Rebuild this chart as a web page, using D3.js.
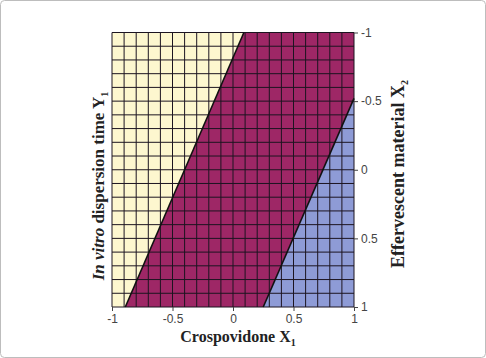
<!DOCTYPE html>
<meta charset="utf-8">
<head>
<style>
body { margin: 0; background: #fff; }
svg { display: block; }
.tick text { font-family: "Liberation Sans", Arial, sans-serif; font-size: 12px; fill: #444; }
.tick line, .domain { stroke: #444; }
.lbl { font-family: "Liberation Serif", "Times New Roman", serif; font-weight: bold; fill: #222; }
</style>
</head>
<body>
<script src="https://cdn.jsdelivr.net/npm/d3@7"></script>
<script>

// axis ticks
var xTicks = [-1, -0.5, 0, 0.5, 1];
var yTicks = [-1, -0.5, 0, 0.5, 1];
var gridLines = [-1, -0.9, -0.8, -0.7, -0.6, -0.5, -0.4, -0.3, -0.2, -0.1, 0,
                 0.1, 0.2, 0.3, 0.4, 0.5, 0.6, 0.7, 0.8, 0.9, 1];

// contour boundaries (X1, X2)
var boundaryLow = [[0.09, -1], [-0.89, 1]];
var boundaryHigh = [[1, -0.52], [0.25, 1]];

// filled regions
var regionNames = ["low", "mid", "high"];
var regionColors = ["#fdf7cf", "#9e2766", "#8e9bd6"];
var regionPolys = [
  [[-1, -1], [0.09, -1], [-0.89, 1], [-1, 1]],
  [[0.09, -1], [1, -1], [1, -0.52], [0.25, 1], [-0.89, 1]],
  [[1, -0.52], [1, 1], [0.25, 1]]
];

var width = 486, height = 358;
var plotL = 112, plotR = 354, plotT = 32.5, plotB = 307;

var svg = d3.select("body").append("svg")
    .attr("width", width)
    .attr("height", height);

svg.append("rect")
    .attr("x", 0.5).attr("y", 0.5)
    .attr("width", width - 1).attr("height", height - 1)
    .attr("rx", 4)
    .attr("fill", "#fff")
    .attr("stroke", "#bdbdbd");

var x = d3.scaleLinear().domain([-1, 1]).range([plotL, plotR]);
var y = d3.scaleLinear().domain([-1, 1]).range([plotT, plotB]);

var line = d3.line().x(function(d) { return x(d[0]); }).y(function(d) { return y(d[1]); });

svg.selectAll("path.region")
    .data(regionPolys)
    .enter().append("path")
    .attr("class", "region")
    .attr("d", function(d) { return line(d) + "Z"; })
    .attr("fill", function(d, i) { return regionColors[i]; });

var g = svg.append("g").attr("stroke", "#1c1420").attr("stroke-width", 1);
g.selectAll("line.v")
    .data(gridLines)
    .enter().append("line")
    .attr("class", "v")
    .attr("x1", function(d) { return x(d); })
    .attr("x2", function(d) { return x(d); })
    .attr("y1", plotT).attr("y2", plotB);
g.selectAll("line.h")
    .data(gridLines)
    .enter().append("line")
    .attr("class", "h")
    .attr("y1", function(d) { return y(d); })
    .attr("y2", function(d) { return y(d); })
    .attr("x1", plotL).attr("x2", plotR);

svg.selectAll("path.boundary")
    .data([boundaryLow, boundaryHigh])
    .enter().append("path")
    .attr("class", "boundary")
    .attr("d", line)
    .attr("fill", "none")
    .attr("stroke", "#111")
    .attr("stroke-width", 1.6);

svg.append("g")
    .attr("transform", "translate(0," + plotB + ")")
    .call(d3.axisBottom(x).tickValues(xTicks).tickSize(4).tickFormat(String))
    .call(function(s) { s.select(".domain").remove(); });

svg.append("g")
    .attr("transform", "translate(" + plotR + ",0)")
    .call(d3.axisRight(y).tickValues(yTicks).tickSize(4).tickFormat(String))
    .call(function(s) { s.select(".domain").remove(); });

// x label
var xl = svg.append("text").attr("class", "lbl")
    .style("font-size", "16px")
    .attr("x", 238).attr("y", 342).attr("text-anchor", "middle");
xl.append("tspan").text("Crospovidone X");
xl.append("tspan").style("font-size", "10px").attr("dy", 4).text("1");

// left label
var yl = svg.append("text").attr("class", "lbl")
    .style("font-size", "17px")
    .attr("transform", "translate(104,186) rotate(-90)")
    .attr("text-anchor", "middle");
yl.append("tspan").attr("font-style", "italic").text("In vitro");
yl.append("tspan").text(" dispersion time Y");
yl.append("tspan").style("font-size", "10px").attr("dy", 4).text("1");

// right label
var rl = svg.append("text").attr("class", "lbl")
    .style("font-size", "18px")
    .attr("transform", "translate(404,174) rotate(-90)")
    .attr("text-anchor", "middle");
rl.append("tspan").text("Effervescent material X");
rl.append("tspan").style("font-size", "10px").attr("dy", 4).text("2");

</script>
</body>
